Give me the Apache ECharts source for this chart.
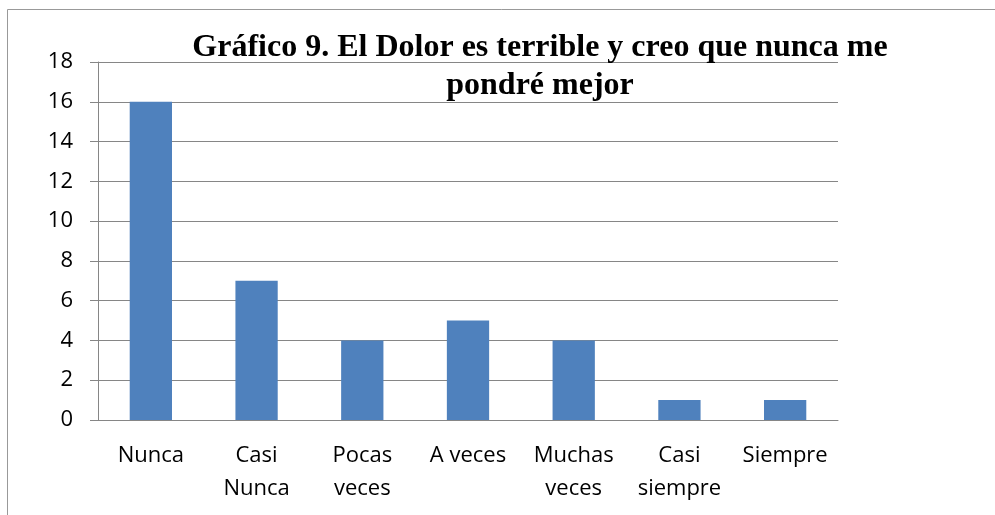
<!DOCTYPE html>
<html>
<head>
<meta charset="utf-8">
<script src="https://cdn.jsdelivr.net/npm/echarts@6/dist/echarts.min.js"></script>
<style>
  html, body { margin: 0; padding: 0; background: #fff; }
</style>
</head>
<body>
<div id="chart" style="width:995px;height:515px"></div>
<script>
// datos del gráfico
var categorias = ["Nunca", "Casi\nNunca", "Pocas\nveces", "A veces", "Muchas\nveces", "Casi\nsiempre", "Siempre"];
var valores = [16, 7, 4, 5, 4, 1, 1];
var titulo = "Gráfico 9. El Dolor es terrible y creo que nunca me\npondré mejor";

var gris = "#868686";
var chart = echarts.init(document.getElementById("chart"));
chart.setOption({
  animation: false,
  grid: { left: 98, right: 157, top: 62, bottom: 95 },
  graphic: [
    {
      type: "rect",
      shape: { x: 7.5, y: 9.5, width: 1100, height: 600 },
      style: { fill: "none", stroke: "#999", lineWidth: 1 },
      silent: true
    },
    {
      type: "text",
      x: 540,
      y: 29,
      z: 10,
      style: {
        text: titulo,
        textAlign: "center",
        fontFamily: "Liberation Serif",
        fontWeight: "bold",
        fontSize: 32,
        lineHeight: 38,
        fill: "#000"
      }
    }
  ],
  xAxis: {
    type: "category",
    data: categorias,
    axisLine: { lineStyle: { color: gris } },
    axisTick: { length: 8, lineStyle: { color: gris } },
    axisLabel: {
      interval: 0,
      hideOverlap: false,
      color: "#000",
      fontFamily: "Open Sans",
      fontSize: 22,
      lineHeight: 33,
      margin: 19
    }
  },
  yAxis: {
    type: "value",
    min: 0,
    max: 18,
    interval: 2,
    axisLine: { show: true, lineStyle: { color: gris } },
    axisTick: { show: true, length: 8, lineStyle: { color: gris } },
    splitLine: { lineStyle: { color: gris } },
    axisLabel: {
      color: "#000",
      fontFamily: "Open Sans",
      fontSize: 22,
      margin: 25
    }
  },
  series: [
    {
      type: "bar",
      data: valores,
      barWidth: "40%",
      itemStyle: { color: "#4F81BD" }
    }
  ]
});
</script>
</body>
</html>
